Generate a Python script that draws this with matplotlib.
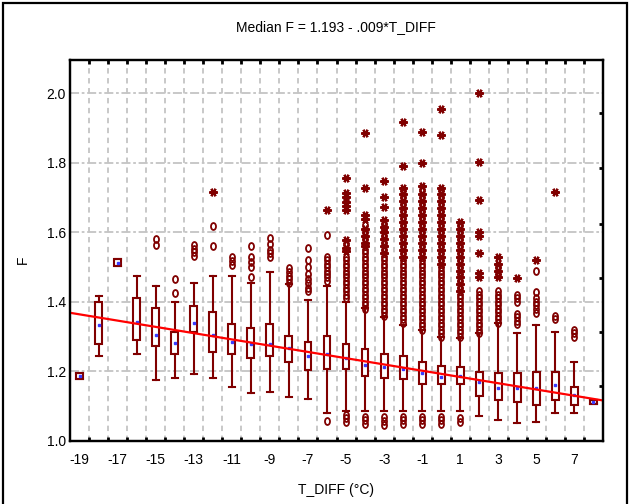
import matplotlib
matplotlib.use("Agg")
import matplotlib.pyplot as plt
from matplotlib.patches import Rectangle
from matplotlib.path import Path
from matplotlib.transforms import Affine2D

plt.rcParams['font.family'] = ['Liberation Sans', 'DejaVu Sans']

# ---------------- data ----------------
t_diff = [-19, -18, -17, -16, -15, -14, -13, -12, -11, -10, -9, -8, -7, -6,
          -5, -4, -3, -2, -1, 0, 1, 2, 3, 4, 5, 6, 7, 8]
q1 = [1.177, 1.279, 1.503, 1.290, 1.273, 1.250, 1.314, 1.255, 1.250, 1.239,
      1.244, 1.228, 1.204, 1.206, 1.206, 1.187, 1.180, 1.177, 1.164, 1.164,
      1.164, 1.129, 1.118, 1.113, 1.103, 1.118, 1.103, 1.106]
q3 = [1.195, 1.400, 1.523, 1.412, 1.383, 1.314, 1.388, 1.372, 1.336, 1.326,
      1.336, 1.302, 1.285, 1.302, 1.279, 1.263, 1.250, 1.244, 1.228, 1.216,
      1.212, 1.199, 1.195, 1.195, 1.199, 1.199, 1.154, 1.118]
med = [1.186, 1.333, 1.513, 1.343, 1.305, 1.281, 1.338, 1.305, 1.285, 1.278,
       1.279, 1.266, 1.244, 1.250, 1.238, 1.218, 1.212, 1.206, 1.195, 1.185,
       1.187, 1.170, 1.151, 1.151, 1.151, 1.161, 1.132, 1.112]
whisk_lo = [1.177, 1.245, 1.503, 1.250, 1.175, 1.182, 1.193, 1.182, 1.154, 1.137,
            1.142, 1.126, 1.120, 1.080, 1.085, 1.085, 1.085, 1.085, 1.085, 1.085,
            1.085, 1.072, 1.060, 1.051, 1.055, 1.080, 1.081, 1.106]
whisk_hi = [1.195, 1.418, 1.523, 1.475, 1.446, 1.400, 1.453, 1.475, 1.475, 1.453,
            1.487, 1.451, 1.405, 1.446, 1.400, 1.382, 1.357, 1.333, 1.319, 1.300,
            1.295, 1.309, 1.338, 1.309, 1.333, 1.314, 1.228, 1.118]

outliers = [
    [], [], [], [],
    [1.563, 1.580],
    [1.424, 1.465],
    [1.533, 1.543, 1.553, 1.563],
    [1.560, 1.618],
    [1.506, 1.518, 1.530],
    [1.470, 1.500, 1.515, 1.530, 1.560],
    [1.530, 1.540, 1.550, 1.565, 1.583],
    [1.455, 1.465, 1.475, 1.485, 1.497],
    [1.430, 1.440, 1.455, 1.465, 1.480, 1.500, 1.520, 1.555],
    [1.058, 1.460, 1.470, 1.480, 1.490, 1.500, 1.510, 1.520, 1.530, 1.592],
    [1.055, 1.065, 1.075, 1.41, 1.42, 1.43, 1.44, 1.45, 1.46, 1.47, 1.48, 1.49,
     1.50, 1.51, 1.52, 1.53, 1.566],
    [1.05, 1.06, 1.07, 1.38, 1.39, 1.40, 1.41, 1.42, 1.43, 1.44, 1.45, 1.46,
     1.47, 1.48, 1.49, 1.50, 1.51, 1.52, 1.53, 1.54, 1.55, 1.58, 1.60, 1.62],
    [1.045, 1.058, 1.07, 1.36, 1.37, 1.38, 1.39, 1.40, 1.41, 1.42, 1.43, 1.44,
     1.45, 1.46, 1.47, 1.48, 1.49, 1.50, 1.51, 1.52, 1.53, 1.55, 1.57, 1.59,
     1.61, 1.625],
    [1.05, 1.06, 1.07, 1.34, 1.35, 1.36, 1.37, 1.38, 1.39, 1.40, 1.41, 1.42,
     1.43, 1.44, 1.45, 1.46, 1.47, 1.48, 1.49, 1.50, 1.51, 1.52, 1.54, 1.56,
     1.58, 1.60, 1.62, 1.64, 1.66, 1.68, 1.70, 1.72],
    [1.05, 1.06, 1.07, 1.32, 1.33, 1.34, 1.35, 1.36, 1.37, 1.38, 1.39, 1.40,
     1.41, 1.42, 1.43, 1.44, 1.45, 1.46, 1.47, 1.48, 1.49, 1.50, 1.51, 1.52,
     1.54, 1.56, 1.58, 1.60, 1.62, 1.64, 1.66, 1.68, 1.70, 1.72],
    [1.05, 1.06, 1.07, 1.30, 1.31, 1.32, 1.33, 1.34, 1.35, 1.36, 1.37, 1.38,
     1.39, 1.40, 1.41, 1.42, 1.43, 1.44, 1.45, 1.46, 1.47, 1.48, 1.49, 1.50,
     1.52, 1.54, 1.56, 1.58, 1.60, 1.62, 1.64, 1.66, 1.68, 1.70, 1.72],
    [1.055, 1.065, 1.30, 1.31, 1.32, 1.33, 1.34, 1.35, 1.36, 1.37, 1.38, 1.39,
     1.40, 1.41, 1.42, 1.44, 1.46, 1.48, 1.50, 1.52, 1.54, 1.56, 1.58, 1.60, 1.62],
    [1.31, 1.32, 1.33, 1.34, 1.35, 1.36, 1.37, 1.38, 1.39, 1.40, 1.41, 1.42, 1.43],
    [1.34, 1.35, 1.36, 1.37, 1.38, 1.39, 1.40, 1.41, 1.42, 1.43, 1.48, 1.50],
    [1.335, 1.345, 1.355, 1.365, 1.40, 1.41, 1.42],
    [1.367, 1.38, 1.39, 1.40, 1.41, 1.429, 1.49],
    [1.35, 1.36],
    [1.30, 1.31, 1.319],
    [],
]

extremes = [
    [], [], [], [], [], [], [],
    [1.715],
    [], [], [], [], [],
    [1.665],
    [1.756, 1.713, 1.700, 1.688, 1.676, 1.665, 1.578, 1.556, 1.545],
    [1.886, 1.727, 1.649, 1.637, 1.61, 1.59, 1.57, 1.56],
    [1.747, 1.702, 1.673, 1.635, 1.615, 1.60, 1.58, 1.56, 1.54],
    [1.918, 1.790, 1.726, 1.71, 1.69, 1.67, 1.65, 1.63, 1.61, 1.59, 1.57, 1.55, 1.53],
    [1.889, 1.798, 1.733, 1.71, 1.69, 1.67, 1.65, 1.63, 1.61, 1.59, 1.57, 1.55, 1.53],
    [1.953, 1.879, 1.726, 1.71, 1.69, 1.67, 1.65, 1.63, 1.61, 1.59, 1.57, 1.55, 1.53, 1.51],
    [1.63, 1.61, 1.59, 1.57, 1.55, 1.53, 1.51, 1.49, 1.47, 1.45, 1.43],
    [1.999, 1.803, 1.693, 1.601, 1.590, 1.540, 1.482, 1.470],
    [1.530, 1.510, 1.490, 1.470],
    [1.468],
    [1.520],
    [1.716],
    [], [],
]

intercept = 1.193
slope = -0.009

x_labels = [-19, -17, -15, -13, -11, -9, -7, -5, -3, -1, 1, 3, 5, 7]
y_ticks = [1.0, 1.2, 1.4, 1.6, 1.8, 2.0]
right_ticks = [1.159, 1.314, 1.469, 1.624, 1.785, 1.942]

# ---------------- styling ----------------
W, H = 630, 504
dark = '#800000'
grid_c = '#c4c4c4'

fig = plt.figure(figsize=(W / 100, H / 100), dpi=100)
fig.patch.set_facecolor('white')
ax = fig.add_axes([70 / W, 1 - 441 / H, 533 / W, 381 / H])

# boxes
stats = []
for i in range(len(t_diff)):
    stats.append(dict(med=med[i], q1=q1[i], q3=q3[i],
                      whislo=whisk_lo[i], whishi=whisk_hi[i], fliers=[]))
ax.bxp(stats, positions=t_diff, widths=0.36, capwidths=0.32,
       showfliers=False, patch_artist=True, manage_ticks=False,
       boxprops=dict(facecolor='white', edgecolor=dark, linewidth=1.5),
       whiskerprops=dict(color=dark, linewidth=1.5),
       capprops=dict(color=dark, linewidth=1.5),
       medianprops=dict(visible=False), zorder=3)

# medians as small blue points
ax.plot(t_diff, med, linestyle='none', marker='s', ms=1.6,
        mfc='#3a3aff', mec='#3a3aff', zorder=4)

# outliers (ellipses) and extremes (asterisks)
ell = Path.unit_circle().transformed(Affine2D().scale(0.72, 1.0))
for i, t in enumerate(t_diff):
    if outliers[i]:
        ax.plot([t] * len(outliers[i]), outliers[i], linestyle='none',
                marker=ell, ms=5.0, mfc='none', mec=dark, mew=1.3, zorder=4)
    if extremes[i]:
        ax.plot([t] * len(extremes[i]), extremes[i], linestyle='none',
                marker=(6, 2, 90), ms=6, mec=dark, mew=1.6, zorder=4)

ax.set_xlim(t_diff[0] - 0.5, t_diff[-1] + 0.5)
ax.set_ylim(1.0, 2.095)

# median regression line
xl = ax.get_xlim()
ax.plot(list(xl), [intercept + slope * xl[0], intercept + slope * xl[1]],
        color='#ff0000', lw=1.6, zorder=5)

# ticks and grid
ax.set_axisbelow(True)
ax.set_xticks([v + 0.5 for v in t_diff[:-1]], minor=True)
ax.set_xticks(x_labels)
ax.set_xticklabels([str(v) for v in x_labels])
ax.set_yticks(y_ticks)
ax.set_yticklabels(['%.1f' % v for v in y_ticks])
ax.grid(which='minor', axis='x', color=grid_c, lw=1.3, linestyle=(0, (3, 2.5)))
ax.grid(which='major', axis='x', visible=False)
ax.grid(which='major', axis='y', color=grid_c, lw=1.3, linestyle=(0, (5, 1.5, 1.5, 1.5)))

ax.tick_params(axis='x', which='major', length=0, pad=9, labelsize=10)
ax.tick_params(axis='x', which='minor', direction='in', length=3, width=2,
               top=True, bottom=True)
ax.tick_params(axis='y', which='major', length=0, pad=3, labelsize=10)
for s in ax.spines.values():
    s.set_linewidth(1.6)

# right-side inner ticks
ax2 = ax.twinx()
ax2.set_ylim(ax.get_ylim())
ax2.set_yticks(right_ticks)
ax2.tick_params(axis='y', direction='in', length=3, width=2, labelright=False)
for s in ax2.spines.values():
    s.set_linewidth(1.6)

# texts
fig.text(336 / W, 1 - 27 / H, 'Median F = 1.193 - .009*T_DIFF', ha='center',
         va='center', fontsize=10)
fig.text(336 / W, 1 - 490 / H, 'T_DIFF (°C)', ha='center', va='center', fontsize=10)
fig.text(23 / W, 1 - 260 / H, 'F', ha='center', va='center', rotation=90, fontsize=10)

# outer frame
fig.patches.append(Rectangle((3 / W, -0.1), 624 / W, 1 - 3 / H + 0.1,
                             transform=fig.transFigure, fill=False,
                             ec='black', lw=1.6))

fig.savefig('out.png', dpi=100)
